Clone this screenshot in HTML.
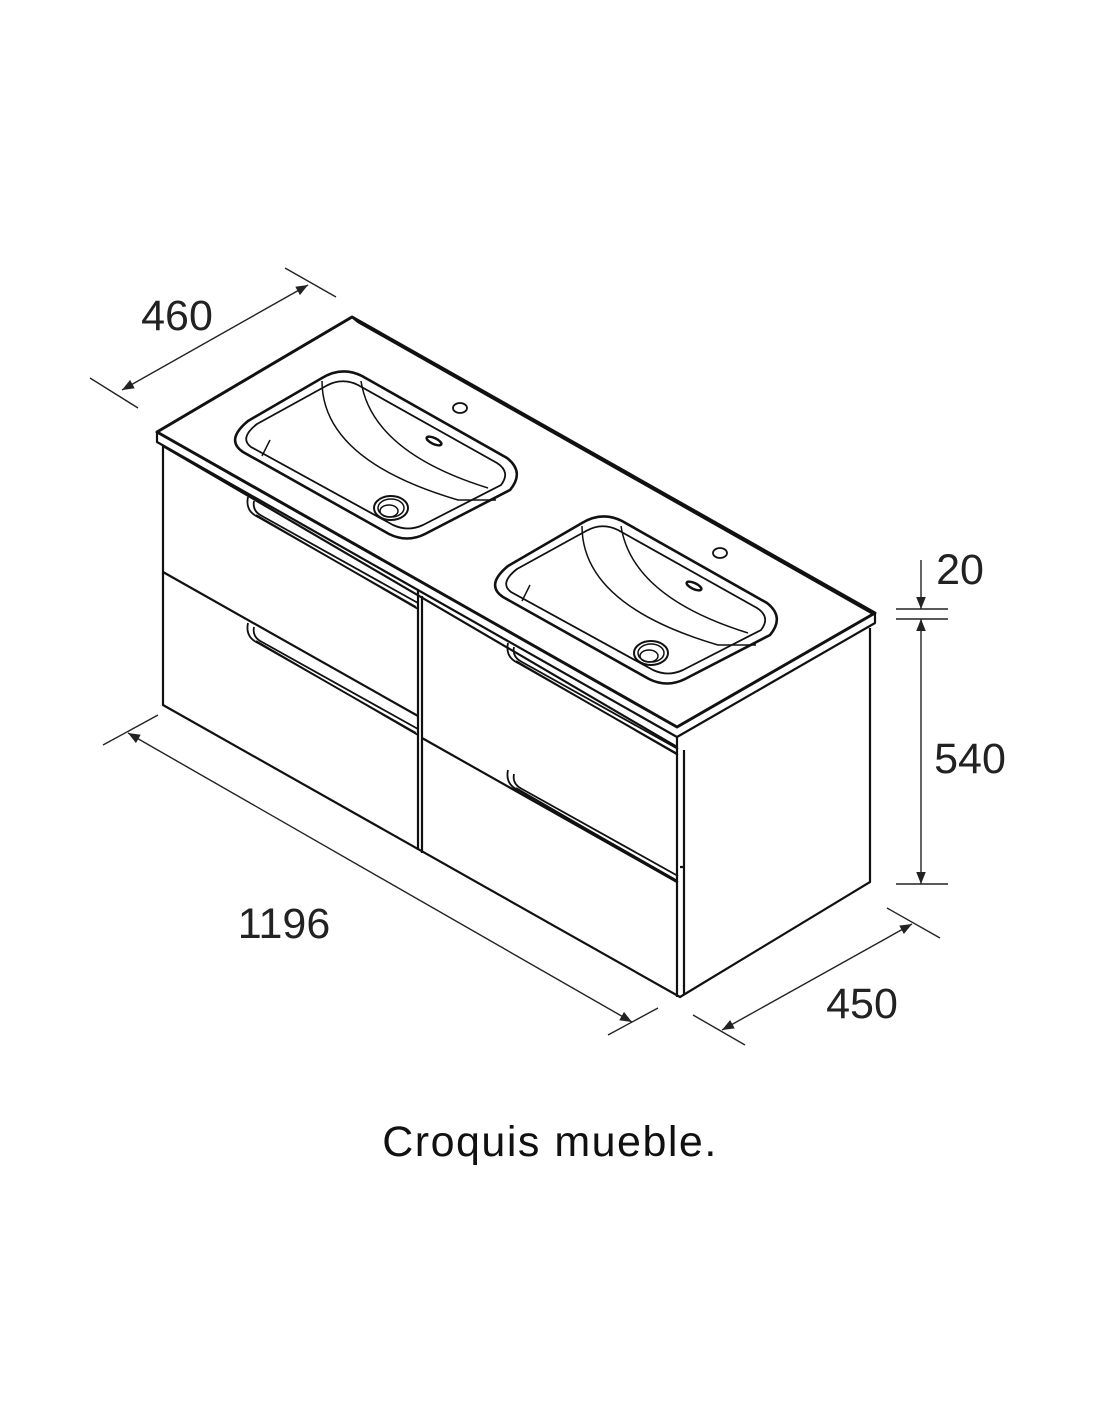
<!DOCTYPE html>
<html><head><meta charset="utf-8"><style>
html,body{margin:0;padding:0;background:#fff;}
svg{display:block;}
text{font-family:"Liberation Sans",Arial,sans-serif;fill:#222;}
</style></head><body>
<svg width="1100" height="1422" viewBox="0 0 1100 1422" xmlns="http://www.w3.org/2000/svg">
<defs>
<marker id="ar" viewBox="0 0 10 10" refX="10" refY="5" markerWidth="12" markerHeight="12" markerUnits="userSpaceOnUse" orient="auto-start-reverse">
<path d="M0,1 L10,5 L0,9 Z" fill="#222"/>
</marker>
<g id="sink" fill="none" stroke="#111">
<path stroke-width="2.6" d="M248,421 L322,378 Q342,366 362,376 L507,458 Q525,472 510,490 L425,534 Q407,543 389,534 L243,452 Q225,440 248,421 Z"/>
<path stroke-width="1.8" d="M257,424 L326,386 Q342,377 358,385 L497,463 Q511,472 501,485 L423,525 Q408,532 393,525 L251,447 Q239,438 257,424 Z"/>
<path stroke-width="1.5" d="M322,381 Q322,460 458,500 L496,500"/>
<path stroke-width="1.5" d="M361,381 Q372,452 488,488"/>
<path stroke-width="1.5" d="M262,456 L270,440"/>
<ellipse cx="391" cy="508" rx="17" ry="12" stroke-width="2"/>
<ellipse cx="391" cy="508" rx="13" ry="9" stroke-width="1.5"/>
<ellipse cx="389" cy="511" rx="9" ry="6" stroke-width="1.5"/>
<ellipse cx="460" cy="408" rx="7" ry="5" stroke-width="1.8"/>
<ellipse cx="434" cy="441" rx="8" ry="3" stroke-width="2.5" transform="rotate(25 434 441)"/>
</g>
<g id="handle" fill="none" stroke="#111" stroke-width="1.8">
<path d="M0,0 Q-3,14 10,20 L168,110"/>
<path d="M6,4 Q4,14 14,19 L170,106"/>
<path d="M8,18 L170,112"/>
</g>
</defs>

<g fill="none" stroke="#111" stroke-linejoin="round">
<path stroke-width="3" d="M352,317 L875,613 L677,727 L157,432 Z"/>
<path stroke-width="2.2" d="M157,432 L157,442 L677,737 L677,747 M677,737 L875,623 L875,613 M352,317 L358,322 L875,615"/>
<path stroke-width="2.2" d="M163,446 L677,747"/>
<path stroke-width="2.2" d="M163,446 L163,705 L680,997 L870,882 L870,628"/>
<path stroke-width="2.2" d="M677,747 L677,997 M684,750 L684,995"/>
<path stroke-width="2.2" d="M418,590 L418,850 M422,596 L422,853"/>
<path stroke-width="2.2" d="M163,572 L418,716 M422,738 L677,882 M680,867 L684,867"/>
</g>
<use href="#sink"/>
<use href="#sink" transform="translate(260,145)"/>
<use href="#handle" transform="translate(248,497)"/>
<use href="#handle" transform="translate(248,623)"/>
<use href="#handle" transform="translate(508,643)"/>
<use href="#handle" transform="translate(508,770)"/>

<g stroke="#222" stroke-width="1.4" fill="none">
<path d="M90,378 L138,408 M285,268 L336,297"/>
<path d="M122,390 L308,285" marker-start="url(#ar)" marker-end="url(#ar)"/>
<path d="M103,745 L158,715 M608,1035 L658,1008"/>
<path d="M128,733 L632,1022" marker-start="url(#ar)" marker-end="url(#ar)"/>
<path d="M693,1015 L745,1045 M887,908 L940,938"/>
<path d="M722,1030 L912,924" marker-start="url(#ar)" marker-end="url(#ar)"/>
<path d="M896,609 L948,609 M896,619 L948,619 M896,884 L948,884"/>
<path d="M921,560 L921,609" marker-end="url(#ar)"/>
<path d="M921,619 L921,884" marker-start="url(#ar)" marker-end="url(#ar)"/>
</g>
<g font-size="43">
<text x="177" y="330" text-anchor="middle">460</text>
<text x="284" y="938" text-anchor="middle">1196</text>
<text x="862" y="1018" text-anchor="middle">450</text>
<text x="970" y="773" text-anchor="middle">540</text>
<text x="960" y="584" text-anchor="middle">20</text>
</g>
<text x="550" y="1156" text-anchor="middle" font-size="43" letter-spacing="1.5" style="fill:#111">Croquis mueble.</text>
</svg>
</body></html>
